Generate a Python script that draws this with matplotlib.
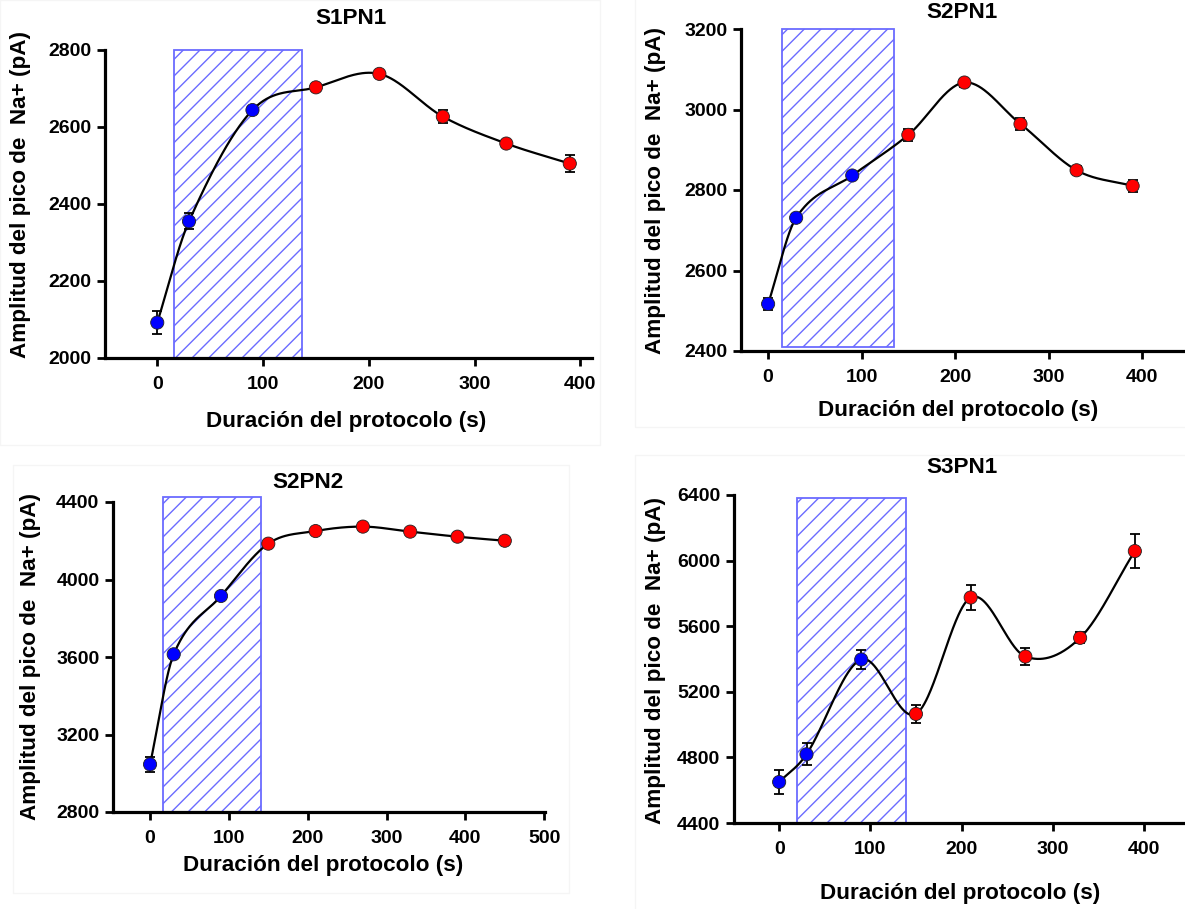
import numpy as np
import matplotlib
matplotlib.use("Agg")
import matplotlib.pyplot as plt
from matplotlib.patches import Rectangle

plt.rcParams['font.family'] = ['Liberation Sans', 'DejaVu Sans']
plt.rcParams['font.weight'] = 'bold'
plt.rcParams['hatch.linewidth'] = 1.0

W, H = 1185, 909

# sampling times (s) and peak Na+ current amplitudes (pA)
t_8 = [0, 30, 90, 150, 210, 270, 330, 390]
t_9 = [0, 30, 90, 150, 210, 270, 330, 390, 450]

s1pn1 = [2092, 2355, 2644, 2703, 2738, 2627, 2557, 2505]
s1pn1_err = [29, 21, 8, 9, 8, 17, 8, 22]

s2pn1 = [2517, 2731, 2836, 2937, 3067, 2964, 2849, 2810]
s2pn1_err = [15, 10, 8, 15, 10, 15, 10, 15]

s2pn2 = [3046, 3614, 3915, 4185, 4250, 4273, 4247, 4221, 4200]
s2pn2_err = [40, 15, 15, 10, 10, 10, 10, 10, 10]

s3pn1 = [4650, 4819, 5397, 5065, 5775, 5415, 5529, 6058]
s3pn1_err = [76, 68, 56, 53, 76, 54, 33, 102]

# stimulation window (s) and its vertical extent (pA) per panel
stim = {
    'S1PN1': (16, 137, 2000, 2800),
    'S2PN1': (15, 135, 2411, 3200),
    'S2PN2': (17, 141, 2800, 4426),
    'S3PN1': (20, 139, 4400, 6380),
}
n_blue = 3  # first three samples fall inside the protocol window

xlabel = 'Duración del protocolo (s)'
ylabel = 'Amplitud del pico de  Na+ (pA)'


def smooth_curve(x, y, n=60):
    # piecewise cubic Hermite with finite-difference (Catmull-Rom style) slopes
    x = np.asarray(x, float)
    y = np.asarray(y, float)
    m = np.empty_like(y)
    m[1:-1] = (y[2:] - y[:-2]) / (x[2:] - x[:-2])
    m[0] = (y[1] - y[0]) / (x[1] - x[0])
    m[-1] = (y[-1] - y[-2]) / (x[-1] - x[-2])
    xs_all, ys_all = [], []
    for i in range(len(x) - 1):
        h = x[i + 1] - x[i]
        s = np.linspace(0, 1, n)
        h00 = 2 * s ** 3 - 3 * s ** 2 + 1
        h10 = s ** 3 - 2 * s ** 2 + s
        h01 = -2 * s ** 3 + 3 * s ** 2
        h11 = s ** 3 - s ** 2
        xs_all.append(x[i] + s * h)
        ys_all.append(h00 * y[i] + h10 * h * m[i] + h01 * y[i + 1] + h11 * h * m[i + 1])
    return np.concatenate(xs_all), np.concatenate(ys_all)


fig = plt.figure(figsize=(W / 100, H / 100), dpi=100)


def box(left, top, right, bottom):
    return [left / W, 1 - bottom / H, (right - left) / W, (bottom - top) / H]


def ftext(x, y, s, **kw):
    fig.text(x / W, 1 - y / H, s, ha='center', va='center', fontsize=16.2,
             fontweight='bold', **kw)


# faint panel borders
for (l, t, r, b) in [(0, 0, 600, 445), (635, -5, 1190, 427),
                     (13, 465, 569, 893), (635, 455, 1190, 912)]:
    fig.patches.append(Rectangle((l / W, 1 - b / H), (r - l) / W, (b - t) / H,
                                 transform=fig.transFigure, fill=False,
                                 edgecolor='#f5f5f5', lw=1.0, zorder=0))

panels = [
    # name, times, values, errors, axes box (px), xlim, ylim, xticks, yticks, title/xlabel/ylabel px
    ('S1PN1', t_8, s1pn1, s1pn1_err, (105, 50, 592, 358), (-49.4, 411), (2000, 2800),
     np.arange(0, 401, 100), np.arange(2000, 2801, 200), (351, 18), (346, 421), (21, 195)),
    ('S2PN1', t_8, s2pn1, s2pn1_err, (741, 29, 1185, 351), (-29, 446), (2400, 3200),
     np.arange(0, 401, 100), np.arange(2400, 3201, 200), (962, 12), (958, 410), (656, 190)),
    ('S2PN2', t_9, s2pn2, s2pn2_err, (113, 502, 545, 812), (-47, 501), (2800, 4400),
     np.arange(0, 501, 100), np.arange(2800, 4401, 400), (308, 483), (323, 865), (31, 657)),
    ('S3PN1', t_8, s3pn1, s3pn1_err, (734, 495, 1185, 823), (-49.5, 445), (4400, 6400),
     np.arange(0, 401, 100), np.arange(4400, 6401, 400), (962, 467), (960, 893), (656, 660)),
]

for (name, t, v, e, bx, xl, yl, xt, yt, tpos, xpos, ypos) in panels:
    ax = fig.add_axes(box(*bx))
    ax.set_xlim(*xl)
    ax.set_ylim(*yl)
    ax.patch.set_alpha(0)

    x0, x1, y0, y1 = stim[name]
    ax.add_patch(Rectangle((x0, y0), x1 - x0, y1 - y0, facecolor='none',
                           edgecolor='#6b6bff', hatch='//', lw=1.3,
                           clip_on=False, zorder=1))

    xs, ys = smooth_curve(t, v)
    ax.plot(xs, ys, color='black', lw=1.6, zorder=2)
    ax.errorbar(t, v, yerr=e, fmt='none', ecolor='black', elinewidth=1.3,
                capsize=3.5, capthick=1.3, zorder=3)
    colors = ['#0000ff'] * n_blue + ['#ff0000'] * (len(t) - n_blue)
    ax.scatter(t, v, s=90, c=colors, edgecolors='#222222', linewidths=0.6,
               zorder=4, clip_on=False)

    for side in ('top', 'right'):
        ax.spines[side].set_visible(False)
    for side in ('left', 'bottom'):
        ax.spines[side].set_linewidth(2.3)
    ax.set_xticks(xt)
    ax.set_yticks(yt)
    ax.tick_params(axis='both', direction='out', length=5.8, width=2.0,
                   labelsize=14, colors='black')
    ax.tick_params(axis='x', pad=7)
    ax.tick_params(axis='y', pad=4)
    for lab in ax.get_xticklabels() + ax.get_yticklabels():
        lab.set_fontweight('bold')

    ftext(*tpos, name)
    ftext(*xpos, xlabel)
    ftext(*ypos, ylabel, rotation=90)

fig.savefig('out.png', dpi=100)
